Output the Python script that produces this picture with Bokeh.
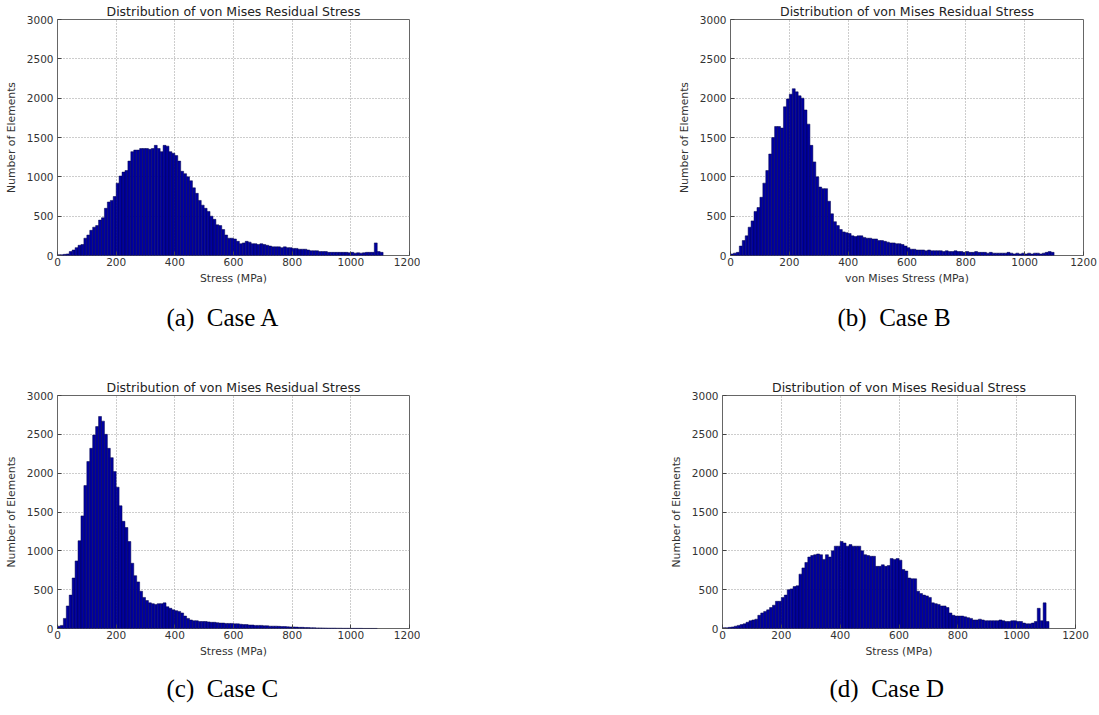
import numpy as np
from bokeh.plotting import figure
from bokeh.layouts import column, row
from bokeh.models import Spacer, Title, FixedTicker, Range1d
from bokeh.embed import file_html
from bokeh.resources import INLINE

BIN_WIDTH = 10  # MPa per histogram bin, first bin starts at 0
X_TICKS = [0, 200, 400, 600, 800, 1000, 1200]
Y_TICKS = [0, 500, 1000, 1500, 2000, 2500, 3000]
TITLE = "Distribution of von Mises Residual Stress"
Y_LABEL = "Number of Elements"

counts_a = [10, 10, 15, 20, 50, 70, 100, 130, 140, 220,
            260, 320, 360, 380, 450, 480, 600, 680, 700, 750,
            920, 1010, 1060, 1080, 1200, 1320, 1340, 1340, 1360, 1360,
            1360, 1350, 1360, 1400, 1360, 1320, 1400, 1390, 1320, 1300,
            1270, 1200, 1070, 1040, 1000, 950, 860, 790, 700, 640,
            600, 560, 500, 460, 390, 380, 330, 260, 220, 220,
            210, 180, 150, 160, 180, 170, 150, 150, 140, 150,
            140, 130, 120, 110, 110, 110, 100, 110, 100, 100,
            90, 90, 80, 80, 80, 70, 60, 60, 60, 50,
            50, 50, 40, 40, 40, 40, 40, 40, 40, 35,
            40, 30, 35, 30, 35, 40, 40, 40, 160, 50, 40]

counts_b = [20, 30, 40, 120, 190, 250, 360, 440, 560, 610,
            740, 920, 1080, 1290, 1500, 1640, 1640, 1620, 1890, 1990,
            2050, 2120, 2080, 2030, 2000, 1850, 1670, 1400, 1190, 1000,
            870, 850, 850, 690, 530, 430, 380, 330, 300, 290,
            280, 250, 240, 250, 250, 230, 220, 220, 210, 210,
            190, 190, 180, 170, 160, 160, 150, 150, 140, 120,
            100, 80, 80, 70, 70, 70, 60, 70, 60, 60,
            60, 60, 50, 60, 50, 50, 60, 50, 50, 40,
            50, 40, 40, 50, 40, 40, 40, 30, 40, 30,
            30, 30, 30, 30, 40, 30, 20, 30, 20, 30,
            20, 30, 20, 30, 30, 20, 30, 40, 50, 40]

counts_c = [30, 40, 130, 290, 430, 650, 870, 1130, 1450, 1840,
            2150, 2320, 2490, 2600, 2730, 2670, 2500, 2320, 2200, 2020,
            1820, 1580, 1380, 1300, 1120, 840, 680, 600, 480, 400,
            360, 330, 320, 310, 320, 320, 330, 280, 260, 240,
            230, 220, 200, 160, 130, 110, 100, 100, 90, 90,
            90, 85, 80, 80, 75, 70, 70, 65, 65, 65,
            60, 60, 55, 50, 50, 45, 45, 40, 40, 40,
            35, 35, 30, 30, 30, 28, 25, 25, 22, 20,
            20, 18, 15, 15, 12, 12, 10, 10, 8, 8,
            7, 6, 5, 5, 5, 4, 4, 3, 3, 3,
            2, 2, 2, 2, 1, 1, 1, 1, 1]

counts_d = [10, 10, 15, 20, 30, 40, 50, 60, 80, 100,
            110, 120, 170, 200, 220, 240, 270, 300, 350, 350,
            400, 430, 500, 510, 540, 550, 700, 780, 850, 920,
            940, 950, 960, 950, 890, 950, 920, 1000, 1060, 1060,
            1120, 1100, 1060, 1080, 1060, 1060, 1060, 1000, 950, 940,
            930, 930, 800, 800, 820, 800, 810, 900, 890, 900,
            880, 760, 740, 650, 640, 640, 480, 450, 430, 420,
            400, 330, 320, 310, 290, 290, 270, 200, 170, 160,
            160, 160, 150, 140, 130, 110, 110, 120, 110, 100,
            100, 100, 100, 100, 110, 100, 90, 90, 100, 100,
            90, 90, 70, 60, 60, 70, 90, 260, 100, 330, 90]

panels = [
    dict(counts=counts_a, xlabel="Stress (MPa)", caption="(a)\u2002Case A"),
    dict(counts=counts_b, xlabel="von Mises Stress (MPa)", caption="(b)\u2002Case B"),
    dict(counts=counts_c, xlabel="Stress (MPa)", caption="(c)\u2002Case C"),
    dict(counts=counts_d, xlabel="Stress (MPa)", caption="(d)\u2002Case D"),
]


def make_hist(spec, width, height, bl, br, bt, bb, cap_offset, cap_standoff):
    p = figure(width=width, height=height, output_backend="svg", toolbar_location=None,
               x_range=Range1d(0, 1200), y_range=Range1d(0, 3000),
               min_border_left=bl, min_border_right=br, min_border_top=bt,
               min_border_bottom=bb, background_fill_color="white",
               border_fill_color="white")
    counts = np.array(spec["counts"], dtype=float)
    edges = np.arange(len(counts) + 1) * BIN_WIDTH
    p.quad(left=edges[:-1], right=edges[1:], bottom=0, top=counts,
           fill_color="#0000a0", line_color="#000048", line_width=0.5)

    p.title.text = TITLE
    p.title.align = "center"
    p.title.text_font = "DejaVu Sans"
    p.title.text_font_size = "12.5px"
    p.title.text_font_style = "normal"
    p.title.text_color = "#222222"
    p.title.standoff = 1

    p.outline_line_color = "#666666"
    p.outline_line_width = 1

    for ax, ticks in ((p.xaxis[0], X_TICKS), (p.yaxis[0], Y_TICKS)):
        ax.ticker = FixedTicker(ticks=ticks)
        ax.axis_line_color = None
        ax.major_tick_in = 4
        ax.major_tick_out = 0
        ax.major_tick_line_color = "#444444"
        ax.minor_tick_line_color = None
        ax.major_label_text_font = "DejaVu Sans"
        ax.major_label_text_font_size = "10.5px"
        ax.major_label_text_color = "#333333"
        ax.axis_label_text_font = "DejaVu Sans"
        ax.axis_label_text_font_size = "10.8px"
        ax.axis_label_text_font_style = "normal"
        ax.axis_label_text_color = "#333333"
    p.xaxis[0].axis_label = spec["xlabel"]
    p.yaxis[0].axis_label = Y_LABEL
    p.xaxis[0].major_label_standoff = 2
    p.xaxis[0].axis_label_standoff = 3
    p.yaxis[0].major_label_standoff = 4
    p.yaxis[0].axis_label_standoff = 6

    p.xgrid.grid_line_color = "#9a9a9a"
    p.ygrid.grid_line_color = "#9a9a9a"
    p.xgrid.grid_line_dash = "1 2"
    p.ygrid.grid_line_dash = "1 2"
    p.xgrid.grid_line_width = 1
    p.ygrid.grid_line_width = 1

    cap = Title(text=spec["caption"], align="left", offset=cap_offset,
                text_font="Liberation Serif", text_font_size="25px",
                text_font_style="normal", text_color="#000000",
                standoff=cap_standoff)
    p.add_layout(cap, "below")
    return p


fa = make_hist(panels[0], 420, 346, 57, 11, 19, 91, 109, 28)
fb = make_hist(panels[1], 426, 346, 57, 16, 19, 91, 107, 28)
fc = make_hist(panels[2], 420, 369, 57, 11, 49, 87, 109, 24)
fd = make_hist(panels[3], 434, 369, 57, 24, 49, 87, 107, 24)

layout = column(
    row(fa, Spacer(width=253, height=346), fb),
    row(fc, Spacer(width=245, height=369), fd),
)

open("out.html", "w").write(file_html(layout, INLINE))
